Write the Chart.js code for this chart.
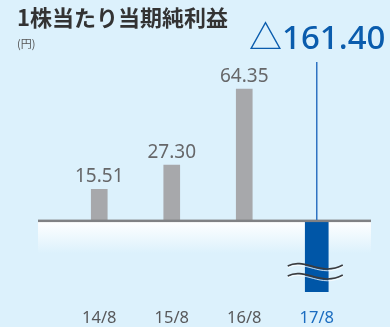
<!DOCTYPE html>
<html lang="ja">
<head>
<meta charset="utf-8">
<script src="https://cdn.jsdelivr.net/npm/chart.js@4/dist/chart.umd.min.js"></script>
<style>
  html, body { margin: 0; padding: 0; background: #dcf1fc; }
  canvas { display: block; }
</style>
</head>
<body>
<canvas id="chart" width="390" height="327"></canvas>
<script>
'use strict';

// 1株当たり当期純利益 (円), fiscal years ending August
var periods = ['14/8', '15/8', '16/8', '17/8'];
var epsValues = [15.51, 27.30, 64.35, -161.40];
var titleText = '1株当たり当期純利益';
var unitText = '(円)';

var BG = '#dcf1fc',
  GRAY_BAR = '#a7a8ab',
  BLUE_BAR = '#0056a7',
  BLUE_TEXT = '#0a5cad';

function formatValue(v) {
  // Japanese reports mark negatives with a triangle
  return v < 0 ? '△' + Math.abs(v).toFixed(2) : v.toFixed(2);
}

var pastValues = epsValues.map(function (v, i) { return i < epsValues.length - 1 ? v : null; });
var lastValues = epsValues.map(function (v, i) { return i === epsValues.length - 1 ? v : null; });

var decorPlugin = {
  id: 'decor',
  beforeDraw: function (chart) {
    var ctx = chart.ctx;
    ctx.save();
    ctx.fillStyle = BG;
    ctx.fillRect(0, 0, chart.width, chart.height);
    ctx.restore();
  },
  beforeDatasetsDraw: function (chart) {
    var ctx = chart.ctx, area = chart.chartArea,
      zeroY = chart.scales.y.getPixelForValue(0),
      left = area.left - 25, right = area.right + 18;
    // pale band under the baseline
    var grad = ctx.createLinearGradient(0, zeroY, 0, zeroY + 32);
    grad.addColorStop(0, '#ffffff');
    grad.addColorStop(1, BG);
    ctx.save();
    ctx.fillStyle = grad;
    ctx.fillRect(left, zeroY, right - left, 32);
    ctx.restore();
  },
  afterDatasetsDraw: function (chart) {
    var ctx = chart.ctx, area = chart.chartArea,
      zeroY = chart.scales.y.getPixelForValue(0),
      left = area.left - 25, right = area.right + 18;

    ctx.save();
    // baseline
    ctx.fillStyle = '#808184';
    ctx.fillRect(left, zeroY - 1.5, right - left, 2.5);

    // values above the gray bars
    ctx.font = '19px "Noto Sans", sans-serif';
    ctx.fillStyle = '#666769';
    ctx.textAlign = 'center';
    ctx.textBaseline = 'alphabetic';
    chart.getDatasetMeta(0).data.forEach(function (bar, i) {
      if (pastValues[i] === null) return;
      ctx.fillText(formatValue(pastValues[i]), bar.x, bar.y - 7);
    });

    // the latest year: leader line, big label, break mark
    var last = epsValues.length - 1,
      bar = chart.getDatasetMeta(1).data[last];
    ctx.strokeStyle = '#2f73c2';
    ctx.lineWidth = 1.5;
    ctx.beginPath();
    ctx.moveTo(bar.x, 62);
    ctx.lineTo(bar.x, zeroY - 1);
    ctx.stroke();

    ctx.font = '500 33px "Noto Sans", "Noto Sans CJK JP", sans-serif';
    ctx.fillStyle = BLUE_TEXT;
    ctx.fillText(formatValue(lastValues[last]), bar.x + 0.5, 49);

    [0, 10].forEach(function (dy) {
      var y0 = 267 + dy;
      ctx.beginPath();
      ctx.moveTo(bar.x - 29, y0 - 1);
      ctx.bezierCurveTo(bar.x - 12, y0 - 10, bar.x + 4, y0 + 10, bar.x + 26, y0 - 2);
      ctx.strokeStyle = '#3a3b3e';
      ctx.lineWidth = 1.6;
      ctx.stroke();
      ctx.beginPath();
      ctx.moveTo(bar.x - 29, y0 + 0.8);
      ctx.bezierCurveTo(bar.x - 12, y0 - 8.2, bar.x + 4, y0 + 11.8, bar.x + 26, y0 - 0.2);
      ctx.strokeStyle = 'rgba(255,255,255,0.8)';
      ctx.lineWidth = 1;
      ctx.stroke();
    });

    // heading
    ctx.textAlign = 'left';
    ctx.font = 'bold 22px "Noto Sans CJK JP", sans-serif';
    ctx.fillStyle = '#333333';
    ctx.fillText(titleText, 17, 26);
    ctx.font = '11px "Noto Sans CJK JP", sans-serif';
    ctx.fillStyle = '#555555';
    ctx.fillText(unitText, 17, 48);
    ctx.restore();
  }
};

var chart = new Chart(document.getElementById('chart'), {
  type: 'bar',
  data: {
    labels: periods,
    datasets: [
      { data: pastValues, backgroundColor: GRAY_BAR, barThickness: 16, grouped: false },
      { data: lastValues, backgroundColor: BLUE_BAR, barThickness: 23, grouped: false }
    ]
  },
  options: {
    responsive: false,
    animation: false,
    layout: { padding: { top: 60, left: 63, right: 37, bottom: 0 }, autoPadding: false },
    plugins: { legend: { display: false }, tooltip: { enabled: false } },
    scales: {
      x: {
        grid: { display: false, drawTicks: false },
        border: { display: false },
        afterFit: function (scale) { scale.height = 35; },
        ticks: {
          padding: 16,
          maxRotation: 0,
          font: { family: '"Noto Sans", sans-serif', size: 16.5 },
          color: function (ctx) { return ctx.index === periods.length - 1 ? '#1c6dc0' : '#58595b'; }
        }
      },
      y: { display: false, min: -34.6, max: 78.6 }
    }
  },
  plugins: [decorPlugin]
});
</script>
</body>
</html>
